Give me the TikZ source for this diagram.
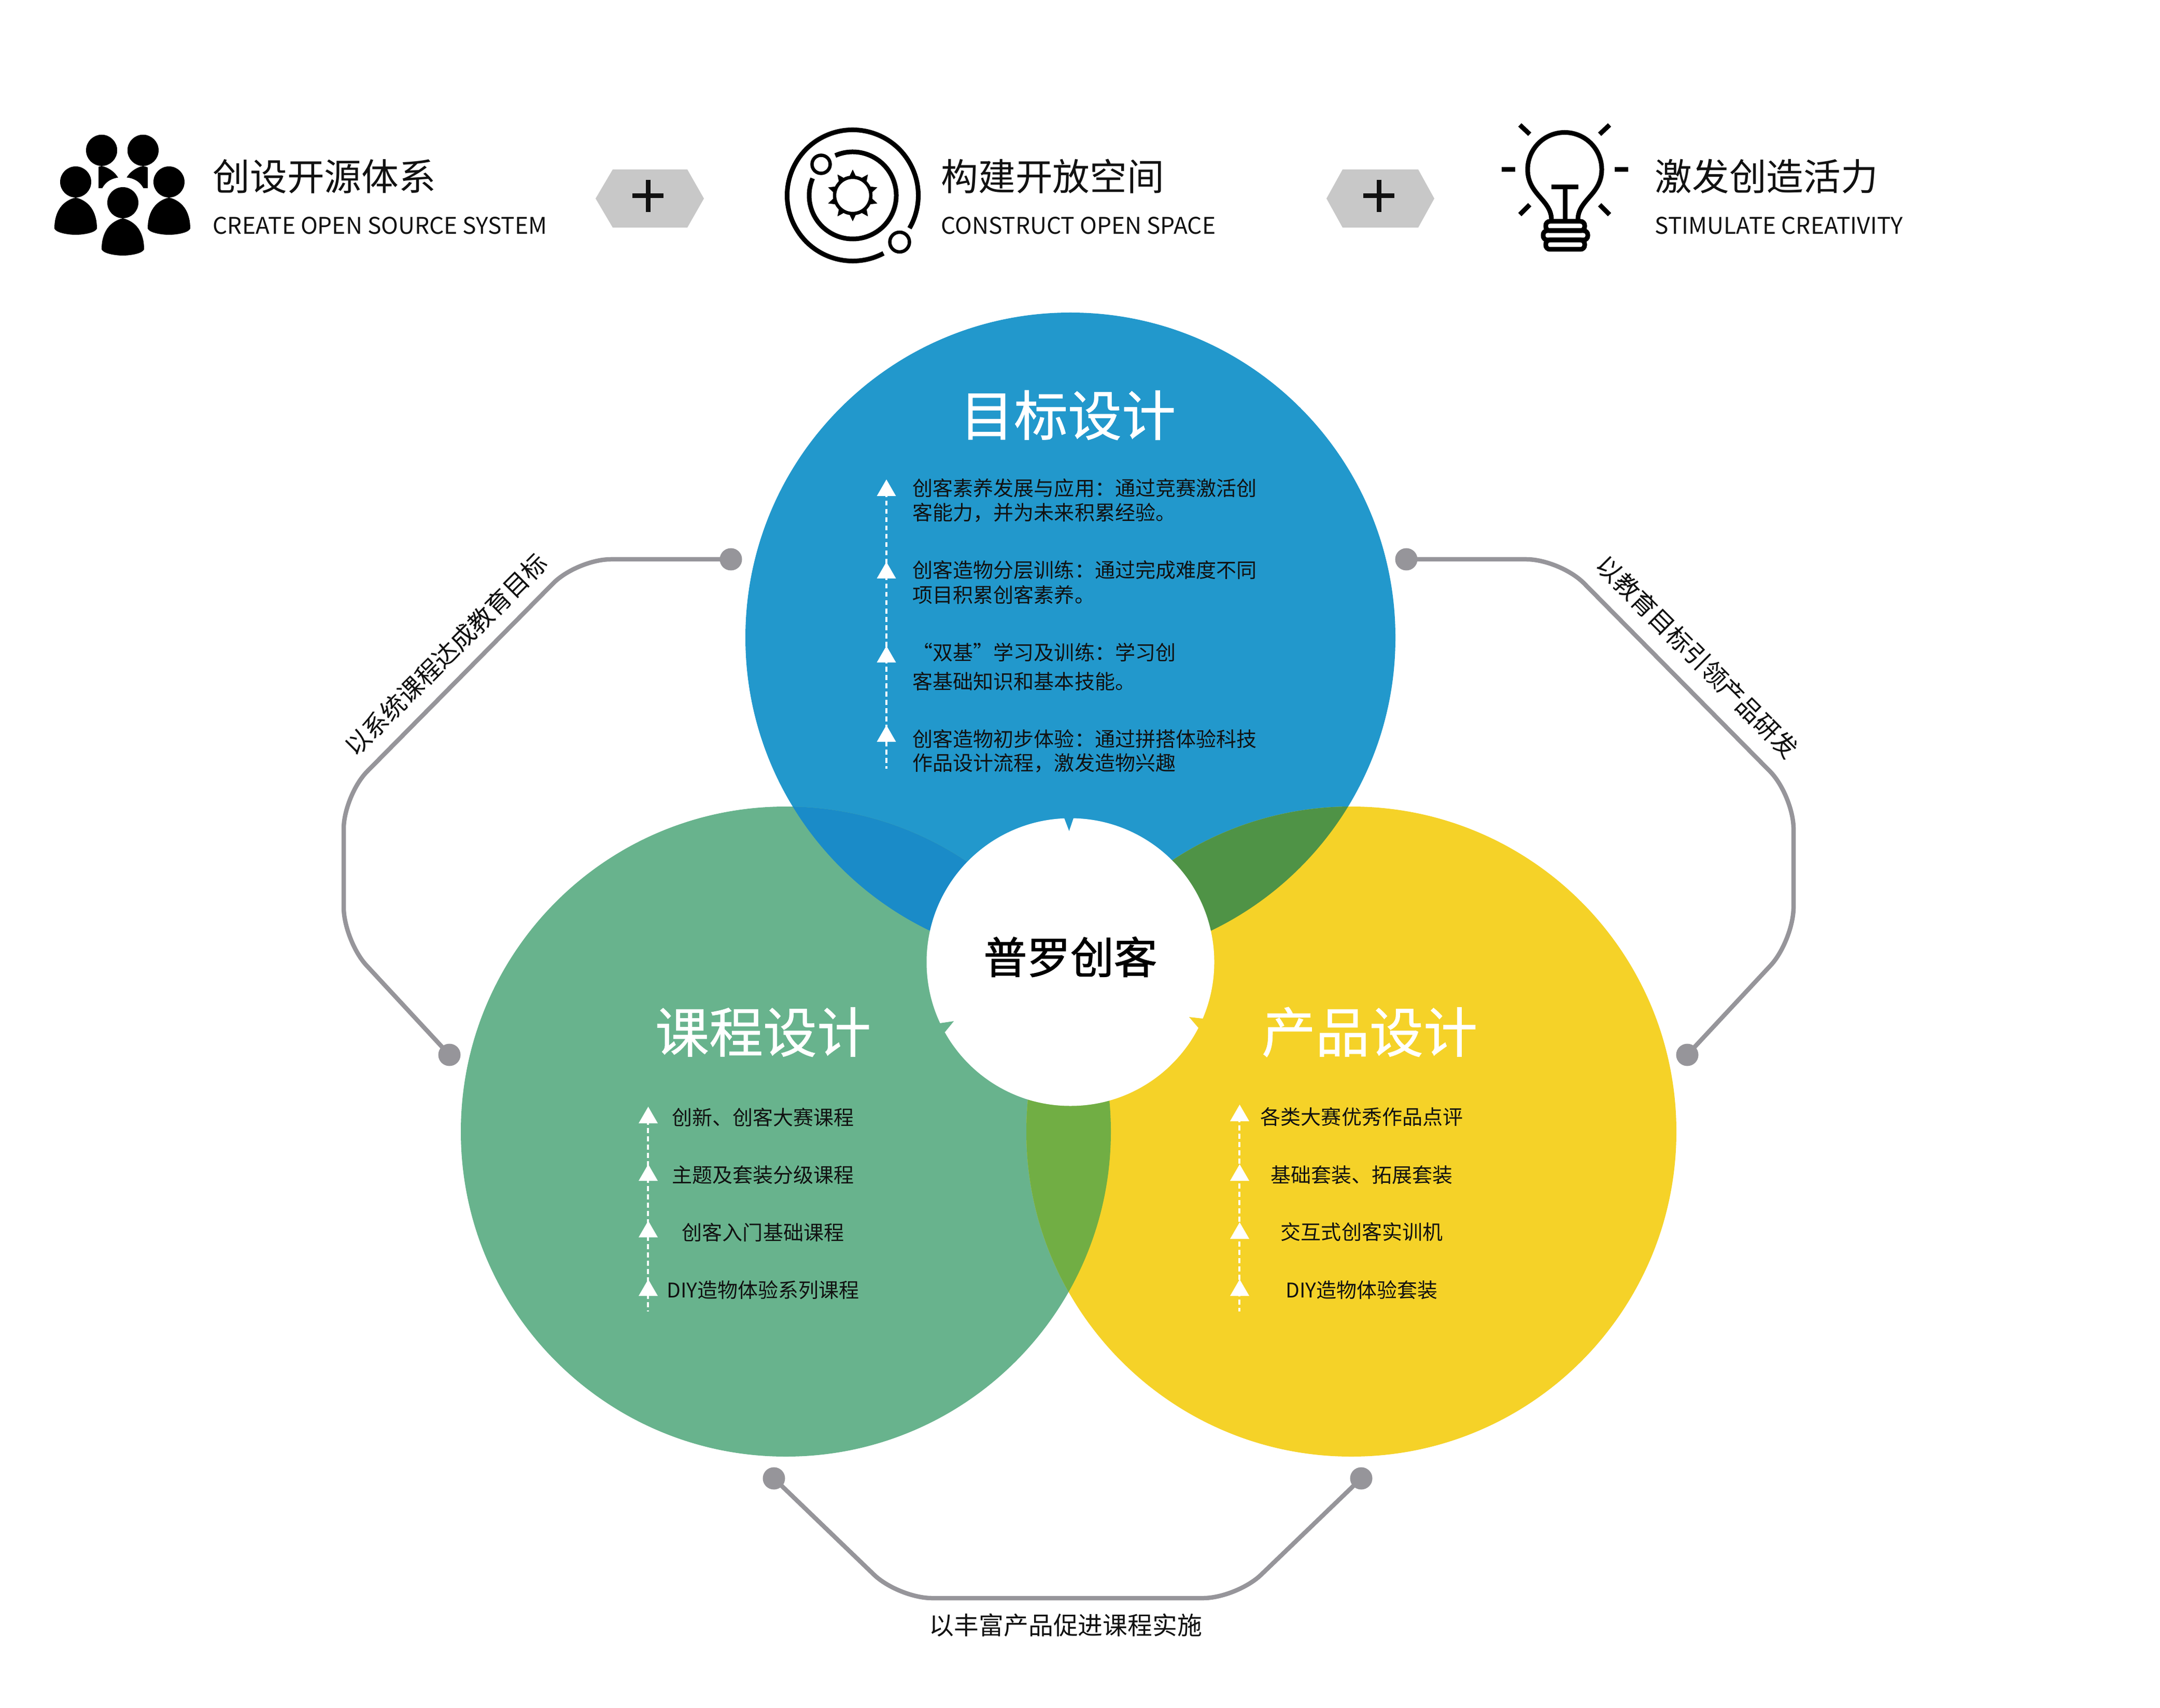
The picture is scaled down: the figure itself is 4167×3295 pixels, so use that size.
\documentclass[tikz,border=0pt]{standalone}
\usepackage{fontspec}
\setmainfont{Noto Sans CJK SC}
\newfontfamily\coreface[FakeBold=1.4]{Noto Sans CJK SC}
\newfontfamily\titleface[FakeBold=0.7]{Noto Sans CJK SC}
\newcommand{\fcolon}{\char"FF1A\relax}
\newcommand{\fcomma}{\char"FF0C\relax}
\definecolor{cblue}{HTML}{2298CC}
\definecolor{cgreen}{HTML}{68B38D}
\definecolor{cyellow}{HTML}{F5D228}
\definecolor{cbg}{HTML}{1A8BC8}
\definecolor{cby}{HTML}{4F9346}
\definecolor{cgy}{HTML}{71AE44}
\definecolor{cgrey}{HTML}{96959A}
\definecolor{chex}{HTML}{C8C8C8}
\definecolor{ctxt}{HTML}{111111}
\tikzset{
 title/.style={font=\titleface\fontsize{29.6}{29.6}\selectfont,text=white,inner sep=0},
 head/.style={font=\fontsize{20.4}{20.4}\selectfont,text=ctxt,inner sep=0,anchor=west},
 sub/.style={font=\fontsize{12.6}{12.6}\selectfont,text=ctxt,inner sep=0,anchor=west},
 item/.style={font=\fontsize{11.1}{11.1}\selectfont,text=ctxt,inner sep=0,anchor=west},
 citem/.style={font=\fontsize{11.1}{11.1}\selectfont,text=ctxt,inner sep=0},
 caption/.style={font=\fontsize{13.6}{13.6}\selectfont,text=ctxt,inner sep=0},
 dot/.style={circle,fill=cgrey,minimum size=43*0.01cm,inner sep=0},
 link/.style={draw=cgrey,line width=8.5*0.01cm,rounded corners=65*0.01cm},
 dashline/.style={draw=white,line width=4*0.01cm,dash pattern=on 9.5*0.01cm off 6.5*0.01cm},
 tri/.style={fill=white},
 hex/.style={fill=chex},
 plus/.style={draw=ctxt,line width=9*0.01cm},
 iconline/.style={draw=black,line width=9*0.01cm},
 thinline/.style={draw=black,line width=6.5*0.01cm},
}
\newcommand{\tipup}[2]{\fill[tri] (#1,#2) -- (#1+18.5,#2+32) -- (#1-18.5,#2+32) -- cycle;}
\newcommand{\bodyshape}[2]{% x, head-centre y
 (#1,#2+30) .. controls (#1+24,#2+36) and (#1+41,#2+55) .. (#1+41,#2+90)
 .. controls (#1+38,#2+98) and (#1+15,#2+102) .. (#1,#2+102)
 .. controls (#1-15,#2+102) and (#1-38,#2+98) .. (#1-41,#2+90)
 .. controls (#1-41,#2+55) and (#1-24,#2+36) .. (#1,#2+30) -- cycle}
\newcommand{\person}[2]{(#1,#2) circle (30) \bodyshape{#1}{#2}}
\begin{document}
\begin{tikzpicture}[x=0.01cm,y=-0.01cm]
\useasboundingbox (0,0) rectangle (4167,3295);
\fill[white] (0,0) rectangle (4167,3295);
% circles
\coordinate (B) at (2065,1230);
\coordinate (G) at (1516,2183);
\coordinate (Y) at (2607,2183);
\def\R{627}
\fill[cblue] (B) circle (\R);
\fill[cgreen] (G) circle (\R);
\fill[cyellow] (Y) circle (\R);
\begin{scope}\clip (B) circle (\R); \fill[cbg] (G) circle (\R); \fill[cby] (Y) circle (\R); \end{scope}
\begin{scope}\clip (G) circle (\R); \fill[cgy] (Y) circle (\R); \end{scope}
% centre
\fill[white] (2065,1856) circle (277.5);
\fill[cblue] (2053,1578) -- (2071,1578) -- (2062.5,1603) -- cycle;
\fill[cgreen] (1813,1974) -- (1840,1970) -- (1823,1991) -- (1810,1985) -- cycle;
\fill[cyellow] (2320,1965) -- (2294,1962) -- (2312,1983) -- (2325,1975) -- cycle;
\node[font=\coreface\fontsize{23.8}{23.8}\selectfont,text=black,inner sep=0] (core) at (2065,1846) {普罗创客};
% titles
\node[title] (t1) at (2060,801) {目标设计};
\node[title] (t2) at (1472,1991) {课程设计};
\node[title] (t3) at (2642,1991) {产品设计};
% blue list
\draw[dashline] (1710,950) -- (1710,1483);
\tipup{1710}{925}\tipup{1710}{1084}\tipup{1710}{1246}\tipup{1710}{1399}
\node[item] (b1) at (1760,942) {创客素养发展与应用\fcolon 通过竞赛激活创};
\node[item] (b2) at (1760,989) {客能力\fcomma 并为未来积累经验。};
\node[item] (b3) at (1760,1100) {创客造物分层训练\fcolon 通过完成难度不同};
\node[item] (b4) at (1760,1148) {项目积累创客素养。};
\node[item] (b5) at (1760,1259) {“双基”学习及训练\fcolon 学习创};
\node[item] (b6) at (1760,1315) {客基础知识和基本技能。};
\node[item] (b7) at (1760,1426) {创客造物初步体验\fcolon 通过拼搭体验科技};
\node[item] (b8) at (1760,1472) {作品设计流程\fcomma 激发造物兴趣};
% green list
\draw[dashline] (1250,2160) -- (1250,2530);
\tipup{1250.5}{2135}\tipup{1250.5}{2246}\tipup{1250.5}{2355}\tipup{1250.5}{2468}
\node[citem] (g1) at (1472,2155) {创新、创客大赛课程};
\node[citem] (g2) at (1472,2267) {主题及套装分级课程};
\node[citem] (g3) at (1472,2377) {创客入门基础课程};
\node[citem] (g4) at (1472,2489) {DIY造物体验系列课程};
% yellow list
\draw[dashline] (2391,2155) -- (2391,2530);
\tipup{2391.5}{2131}\tipup{2391.5}{2246}\tipup{2391.5}{2358}\tipup{2391.5}{2468}
\node[citem] (y1) at (2627,2155) {各类大赛优秀作品点评};
\node[citem] (y2) at (2627,2267) {基础套装、拓展套装};
\node[citem] (y3) at (2627,2377) {交互式创客实训机};
\node[citem] (y4) at (2627,2489) {DIY造物体验套装};
% connectors
\node[dot] (d1) at (1410,1079) {};
\node[dot] (d2) at (867,2035) {};
\node[dot] (d3) at (2713,1079) {};
\node[dot] (d4) at (3255,2035) {};
\node[dot] (d5) at (1493,2852) {};
\node[dot] (d6) at (2626,2852) {};
\coordinate (c1) at (1113,1079);\coordinate (c2) at (663,1534);\coordinate (c3) at (663,1815);
\coordinate (c4) at (3010,1079);\coordinate (c5) at (3460,1534);\coordinate (c6) at (3460,1815);
\coordinate (c7) at (1733,3083);\coordinate (c8) at (2386,3083);
\draw[link] (d1.center) -- (c1) -- (c2) -- (c3) -- (d2.center);
\draw[link] (d3.center) -- (c4) -- (c5) -- (c6) -- (d4.center);
\draw[link] (d5.center) -- (c7) -- (c8) -- (d6.center);
\node[caption,rotate=45] (l1) at (860,1263) {以系统课程达成教育目标};
\node[caption,rotate=-45] (l2) at (3274,1267) {以教育目标引领产品研发};
\node[caption] (l3) at (2056,3135) {以丰富产品促进课程实施};
% header texts
\node[head] (h1) at (410,340) {创设开源体系};
\node[sub] (s1) at (410,435) {CREATE OPEN SOURCE SYSTEM};
\node[head] (h2) at (1815,340) {构建开放空间};
\node[sub] (s2) at (1815,435) {CONSTRUCT OPEN SPACE};
\node[head] (h3) at (3192,340) {激发创造活力};
\node[sub] (s3) at (3192,435) {STIMULATE CREATIVITY};
% hexagons and plus signs
\fill[hex] (1149,383) -- (1182,327) -- (1326,327) -- (1358,383) -- (1326,439) -- (1182,439) -- cycle;
\draw[plus] (1220,378) -- (1280,378) (1250,347) -- (1250,409);
\fill[hex] (2559,383) -- (2590,327) -- (2736,327) -- (2767,383) -- (2736,439) -- (2590,439) -- cycle;
\draw[plus] (2630,378) -- (2690,378) (2660,347) -- (2660,409);
% people icon
\begin{scope}
 \clip (190,255) rectangle (285,363);
 \fill[black] \person{196}{290};
 \fill[black] \person{276}{290};
\end{scope}
\fill[white] (194,372) .. controls (200,350) and (218,342) .. (237,342)
  .. controls (256,342) and (274,350) .. (280,372) -- cycle;
\fill[black] (196,290) circle (30) (276,290) circle (30);
\fill[black] \person{146}{351};
\fill[black] \person{326}{351};
\fill[black] \person{237}{391};
% orbit icon
\coordinate (orb) at (1645,377);
\draw[iconline] (orb) ++(62:126.5) arc[start angle=62,end angle=390,radius=126.5];
\draw[iconline] (orb) ++(246.4:84) arc[start angle=246.4,end angle=563,radius=84];
\draw[thinline] (1584,317) circle (17.5);
\draw[thinline] (1735.5,467) circle (19);
\draw[thinline] (orb) circle (35);
\begin{scope}[shift={(orb)}]
\foreach \a in {0,36,...,324}
  \fill[black] (\a+90-11:36) -- (\a+90:50) -- (\a+90+11:36) -- cycle;
\end{scope}
% bulb
\draw[iconline] (2993,423) .. controls (2992,385) and (2947,375) .. (2947,327)
 arc[start angle=180,end angle=360,radius=71.5] .. controls (3090,375) and (3045,385) .. (3044,423);
\draw[iconline] (2993,361) -- (3045,361) (3019,361) -- (3019,425);
\draw[iconline,rounded corners=8*0.01cm] (2982,427) rectangle (3057,445);
\draw[iconline,rounded corners=8*0.01cm] (2977,445) rectangle (3063,463);
\draw[iconline,rounded corners=8*0.01cm] (2982,463) rectangle (3057,481);
\draw[iconline] (2932,241) -- (2951,259) (3105,241) -- (3086,259) (2897,327) -- (2923,327)
 (3115,327) -- (3141,327) (2951,395) -- (2932,414) (3086,395) -- (3105,414);
\end{tikzpicture}
\end{document}
